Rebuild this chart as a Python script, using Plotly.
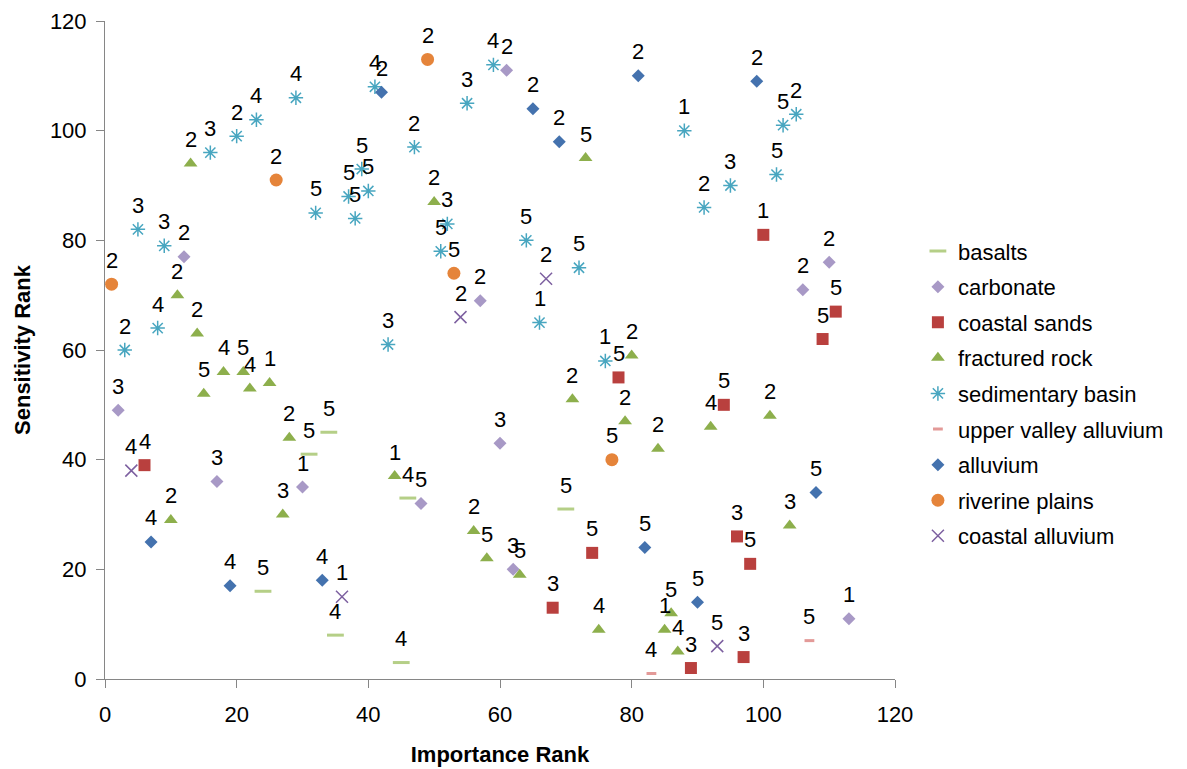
import plotly.graph_objects as go

# ---- data (Importance Rank, Sensitivity Rank, point label) ----
basalts_x = [24, 31, 34, 35, 46, 45, 70]
basalts_y = [16, 41, 45, 8, 33, 3, 31]
basalts_lbl = [5, 5, 5, 4, 4, 4, 5]

carbonate_x = [2, 12, 17, 30, 48, 62, 57, 60, 61, 110, 106, 113]
carbonate_y = [49, 77, 36, 35, 32, 20, 69, 43, 111, 76, 71, 11]
carbonate_lbl = [3, 2, 3, 1, 5, 3, 2, 3, 2, 2, 2, 1]

coastal_sands_x = [6, 100, 111, 109, 78, 94, 74, 68, 96, 98, 97, 89]
coastal_sands_y = [39, 81, 67, 62, 55, 50, 23, 13, 26, 21, 4, 2]
coastal_sands_lbl = [4, 1, 5, 5, 5, 5, 5, 3, 3, 5, 3, 3]

fractured_x = [13, 11, 14, 15, 18, 21, 22, 25, 28, 10, 27, 44, 50, 73, 71, 80, 79, 84,
               92, 101, 56, 58, 63, 75, 104, 86, 85, 87]
fractured_y = [94, 70, 63, 52, 56, 56, 53, 54, 44, 29, 30, 37, 87, 95, 51, 59, 47, 42,
               46, 48, 27, 22, 19, 9, 28, 12, 9, 5]
fractured_lbl = [2, 2, 2, 5, 4, 5, 4, 1, 2, 2, 3, 1, 2, 5, 2, 2, 2, 2,
                 4, 2, 2, 5, 5, 4, 3, 5, 1, 4]

sedimentary_x = [5, 16, 20, 23, 29, 32, 37, 38, 39, 40, 41, 55, 59, 47, 52, 51, 43, 64,
                 72, 66, 76, 88, 91, 95, 102, 103, 105, 9, 8, 3]
sedimentary_y = [82, 96, 99, 102, 106, 85, 88, 84, 93, 89, 108, 105, 112, 97, 83, 78, 61, 80,
                 75, 65, 58, 100, 86, 90, 92, 101, 103, 79, 64, 60]
sedimentary_lbl = [3, 3, 2, 4, 4, 5, 5, 5, 5, 5, 4, 3, 4, 2, 3, 5, 3, 5,
                   5, 1, 1, 1, 2, 3, 5, 5, 2, 3, 4, 2]

upper_valley_x = [83, 107]
upper_valley_y = [1, 7]
upper_valley_lbl = [4, 5]

alluvium_x = [7, 19, 33, 42, 65, 69, 81, 99, 82, 90, 108]
alluvium_y = [25, 17, 18, 107, 104, 98, 110, 109, 24, 14, 34]
alluvium_lbl = [4, 4, 4, 2, 2, 2, 2, 2, 5, 5, 5]

riverine_x = [1, 26, 49, 53, 77]
riverine_y = [72, 91, 113, 74, 40]
riverine_lbl = [2, 2, 2, 5, 5]

coastal_alluvium_x = [4, 36, 54, 67, 93]
coastal_alluvium_y = [38, 15, 66, 73, 6]
coastal_alluvium_lbl = [4, 1, 2, 2, 5]

FONT = "Liberation Sans, Arial, sans-serif"
FS = 22

series = [
    ("basalts", basalts_x, basalts_y, basalts_lbl,
     dict(symbol="line-ew", size=12, color="#B5CF87", line=dict(color="#B5CF87", width=3))),
    ("carbonate", carbonate_x, carbonate_y, carbonate_lbl,
     dict(symbol="diamond", size=10, color="#A899C6", line=dict(width=0))),
    ("coastal sands", coastal_sands_x, coastal_sands_y, coastal_sands_lbl,
     dict(symbol="square", size=12, color="#B9403E", line=dict(width=0))),
    ("fractured rock", fractured_x, fractured_y, fractured_lbl,
     dict(symbol="triangle-up", size=12, color="#8DAF4C", line=dict(width=0))),
    ("sedimentary basin", sedimentary_x, sedimentary_y, sedimentary_lbl,
     dict(symbol="asterisk-open", size=12, color="#48A6C0", line=dict(color="#48A6C0", width=1.5))),
    ("upper valley alluvium", upper_valley_x, upper_valley_y, upper_valley_lbl,
     dict(symbol="line-ew", size=7, color="#E39A98", line=dict(color="#E39A98", width=3))),
    ("alluvium", alluvium_x, alluvium_y, alluvium_lbl,
     dict(symbol="diamond", size=10, color="#4472AE", line=dict(width=0))),
    ("riverine plains", riverine_x, riverine_y, riverine_lbl,
     dict(symbol="circle", size=13, color="#E5843A", line=dict(width=0))),
    ("coastal alluvium", coastal_alluvium_x, coastal_alluvium_y, coastal_alluvium_lbl,
     dict(symbol="x-thin-open", size=12, color="#7D60A0", line=dict(color="#7D60A0", width=1.5))),
]

fig = go.Figure()
annotations = []
for i, (name, xs, ys, lbls, mk) in enumerate(series):
    fig.add_trace(go.Scatter(
        x=xs, y=ys, name=name, mode="markers",
        marker=mk, legendgroup=f"g{i}", cliponaxis=False,
    ))
    for xv, yv, lv in zip(xs, ys, lbls):
        annotations.append(dict(
            x=xv, y=yv, xref="x", yref="y", text=str(lv), showarrow=False,
            yshift=24, xanchor="center", yanchor="middle",
            font=dict(family=FONT, size=FS, color="#000000"),
        ))

axis_common = dict(
    range=[0, 120], dtick=20, showgrid=False, zeroline=False,
    showline=True, linecolor="#868686", linewidth=1,
    ticks="outside", ticklen=8, tickcolor="#868686", tickwidth=1,
    tickfont=dict(family=FONT, size=FS, color="#000000"),
    automargin=False,
)

# page body adds an 8px offset, so the figure is sized to fit inside the window
fig.update_layout(
    width=1179, height=761,
    margin=dict(l=96.5, r=292, t=13, b=89.5),
    paper_bgcolor="white", plot_bgcolor="white",
    font=dict(family=FONT, size=FS, color="#000000"),
    xaxis=dict(**axis_common, ticklabelstandoff=8,
               title=dict(text="<b>Importance Rank</b>", standoff=20,
                          font=dict(family=FONT, size=FS, color="#000000"))),
    yaxis=dict(**axis_common, ticklabelstandoff=5,
               title=dict(text="<b>Sensitivity Rank</b>", standoff=13,
                          font=dict(family=FONT, size=FS, color="#000000"))),
    legend=dict(x=1.029, y=0.682, xanchor="left", yanchor="top",
                traceorder="grouped", tracegroupgap=4,
                font=dict(family=FONT, size=FS, color="#000000"),
                bgcolor="rgba(0,0,0,0)"),
    annotations=annotations,
    showlegend=True,
)

fig.write_html("out.html")
